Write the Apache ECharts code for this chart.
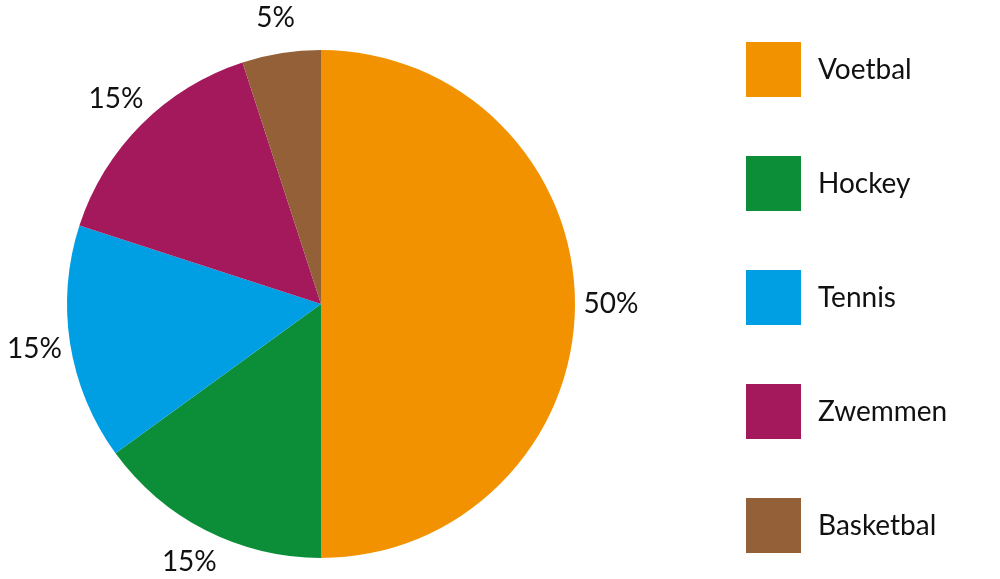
<!DOCTYPE html>
<html>
<head>
<meta charset="utf-8">
<title>Sport</title>
<script src="https://cdn.jsdelivr.net/npm/echarts@6/dist/echarts.min.js"></script>
<style>
  html, body { margin: 0; padding: 0; background: #fff; }
  #chart { width: 1000px; height: 579px; }
</style>
</head>
<body>
<div id="chart"></div>
<script>
// data
var sports = ['Voetbal', 'Hockey', 'Tennis', 'Zwemmen', 'Basketbal'];
var shares = [50, 15, 15, 15, 5];
var colors = ['#f39200', '#0c8e39', '#009fe3', '#a3195b', '#936037'];

var pieData = sports.map(function (name, i) {
    return { name: name, value: shares[i], itemStyle: { color: colors[i] } };
});

var myChart = echarts.init(document.getElementById('chart'));

var option = {
    animation: false,
    textStyle: { fontFamily: 'Lato' },
    legend: {
        orient: 'vertical',
        left: 746,
        top: 42,
        padding: 0,
        icon: 'rect',
        itemWidth: 55,
        itemHeight: 55,
        itemGap: 59,
        data: sports,
        selectedMode: false,
        textStyle: {
            fontFamily: 'Lato',
            fontSize: 28,
            color: '#111',
            padding: [0, 0, 0, 12]
        }
    },
    series: [
        {
            name: 'sport',
            type: 'pie',
            center: [321, 304],
            radius: 254,
            startAngle: 90,
            clockwise: true,
            data: pieData,
            label: { show: false },
            labelLine: { show: false },
            emphasis: { disabled: true }
        },
        {
            // transparent ring, only there to place the percentage labels
            name: 'labels',
            type: 'pie',
            center: [321, 304],
            radius: [270, 304],
            startAngle: 90,
            clockwise: true,
            silent: true,
            legendHoverLink: false,
            data: sports.map(function (name, i) {
                return { name: name, value: shares[i] };
            }),
            itemStyle: { color: 'rgba(0,0,0,0)' },
            label: {
                show: true,
                position: 'inside',
                formatter: '{c}%',
                fontFamily: 'Lato',
                fontSize: 28,
                color: '#111'
            },
            labelLine: { show: false },
            emphasis: { disabled: true }
        }
    ]
};

myChart.setOption(option);
</script>
</body>
</html>
